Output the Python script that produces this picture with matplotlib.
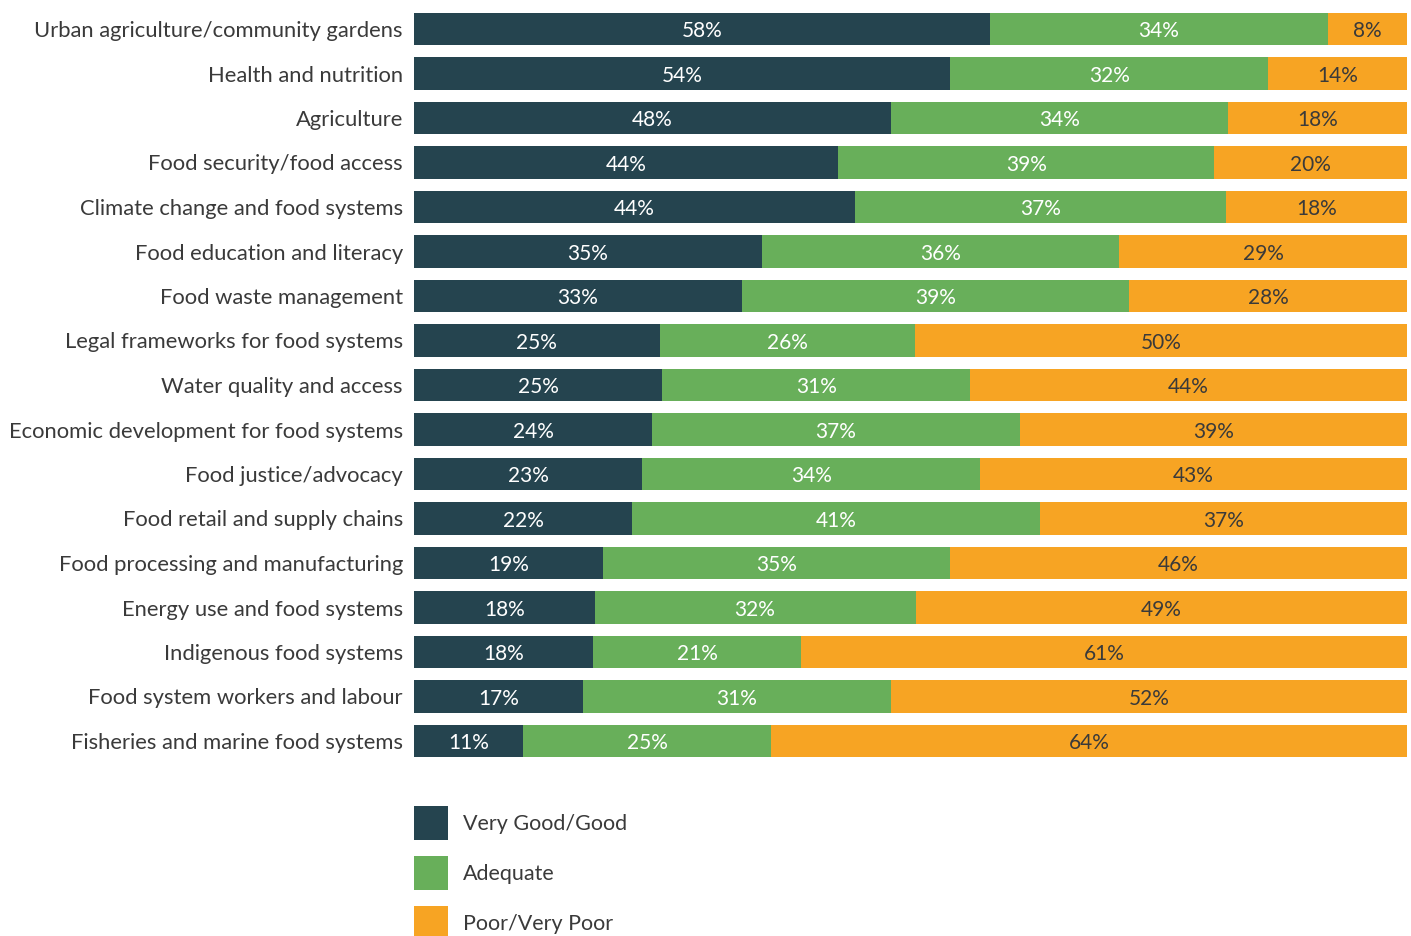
import numpy as np
import matplotlib
matplotlib.use("Agg")
from matplotlib import pyplot as plt
from matplotlib.patches import Rectangle

plt.rcParams['font.family'] = ['Lato', 'DejaVu Sans']

categories = [
    "Urban agriculture/community gardens",
    "Health and nutrition",
    "Agriculture",
    "Food security/food access",
    "Climate change and food systems",
    "Food education and literacy",
    "Food waste management",
    "Legal frameworks for food systems",
    "Water quality and access",
    "Economic development for food systems",
    "Food justice/advocacy",
    "Food retail and supply chains",
    "Food processing and manufacturing",
    "Energy use and food systems",
    "Indigenous food systems",
    "Food system workers and labour",
    "Fisheries and marine food systems",
]
good = [58, 54, 48, 44, 44, 35, 33, 25, 25, 24, 23, 22, 19, 18, 18, 17, 11]
adequate = [34, 32, 34, 39, 37, 36, 39, 26, 31, 37, 34, 41, 35, 32, 21, 31, 25]
poor = [8, 14, 18, 20, 18, 29, 28, 50, 44, 39, 43, 37, 46, 49, 61, 52, 64]

series_names = ["Very Good/Good", "Adequate", "Poor/Very Poor"]
colors = ["#25444f", "#68af5a", "#f7a423"]
text_colors = ["white", "white", "#3a3a3a"]

W, H = 1411, 936
fig = plt.figure(figsize=(W / 100, H / 100), dpi=100)
ax = fig.add_axes([414 / W, 1 - 763.25 / H, (1407 - 414) / W, (763.25 - 6.75) / H])

vals = np.array([good, adequate, poor], dtype=float)
# rows don't always add to exactly 100 because of rounding, scale each to full width
shares = vals / vals.sum(axis=0)
y = np.arange(len(categories))
left = np.zeros(len(categories))
for i in range(3):
    ax.barh(y, shares[i], left=left, height=0.74, color=colors[i], linewidth=0)
    for j in range(len(categories)):
        ax.text(left[j] + shares[i][j] / 2, y[j] + 0.05, f"{int(vals[i][j])}%",
                ha="center", va="center", fontsize=15, color=text_colors[i])
    left += shares[i]

ax.set_xlim(0, 1)
ax.set_ylim(len(categories) - 0.5, -0.5)
ax.set_yticks(y)
ax.set_yticklabels(categories, fontsize=15.8, color="#3a3a3a")
ax.tick_params(axis="y", length=0, pad=8)
ax.set_xticks([])
for s in ax.spines.values():
    s.set_visible(False)

# legend drawn by hand below the bars
for k, name in enumerate(series_names):
    top = 806 + k * 50
    fig.patches.append(Rectangle((414 / W, 1 - (top + 34) / H), 34 / W, 34 / H,
                                 transform=fig.transFigure, color=colors[k], linewidth=0))
    fig.text(463 / W, 1 - (top + 18) / H, name, ha="left", va="center",
             fontsize=15.5, color="#3a3a3a")

fig.savefig("out.png", dpi=100)
